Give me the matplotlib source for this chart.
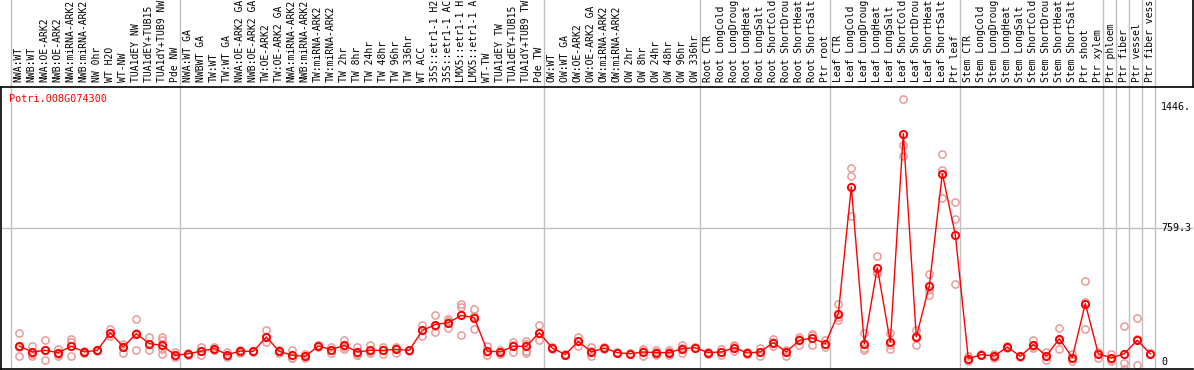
import matplotlib.pyplot as plt

gene = "Potri.008G074300"

# column labels, one list per block (blocks are split by grey lines)
nw_labels = ["NWA:WT", "NWB:WT", "NWA:OE-ARK2", "NWB:OE-ARK2", "NWA:miRNA-ARK2",
             "NWB:miRNA-ARK2", "NW 0hr", "WT H2O", "WT-NW", "TUA1dEY NW",
             "TUA1dEY+TUB15 NW", "TUA1dY+TUB9 NW", "Pde NW"]
tw_labels = ["NWA:WT GA", "NWBWT GA", "TW:WT", "TW:WT GA", "NWA:OE-ARK2 GA",
             "NWB:OE-ARK2 GA", "TW:OE-ARK2", "TW:OE-ARK2 GA", "NWA:miRNA-ARK2",
             "NWB:miRNA-ARK2", "TW:miRNA-ARK2", "TW:miRNA-ARK2", "TW 2hr", "TW 8hr",
             "TW 24hr", "TW 48hr", "TW 96hr", "TW 336hr", "WT ACC", "35S::etr1-1 H2O",
             "35S::etr1-1 ACC", "LMX5::etr1-1 H2O", "LMX5::etr1-1 ACC", "WT-TW",
             "TUA1dEY TW", "TUA1dEY+TUB15 TW", "TUA1dY+TUB9 TW", "Pde TW"]
ow_labels = ["OW:WT", "OW:WT GA", "OW:OE-ARK2", "OW:OE-ARK2 GA", "OW:miRNA-ARK2",
             "OW:miRNA-ARK2", "OW 2hr", "OW 8hr", "OW 24hr", "OW 48hr", "OW 96hr",
             "OW 336hr"]
root_labels = ["Root CTR", "Root LongCold", "Root LongDrought", "Root LongHeat",
               "Root LongSalt", "Root ShortCold", "Root ShortDrought", "Root ShortHeat",
               "Root ShortSalt", "Ptr root"]
leaf_labels = ["Leaf CTR", "Leaf LongCold", "Leaf LongDrought", "Leaf LongHeat",
               "Leaf LongSalt", "Leaf ShortCold", "Leaf ShortDrought", "Leaf ShortHeat",
               "Leaf ShortSalt", "Ptr leaf"]
stem_labels = ["Stem CTR", "Stem LongCold", "Stem LongDrought", "Stem LongHeat",
               "Stem LongSalt", "Stem ShortCold", "Stem ShortDrought", "Stem ShortHeat",
               "Stem ShortSalt", "Ptr shoot", "Ptr xylem"]
tissue_labels = [["Ptr phloem"], ["Ptr fiber"], ["Ptr vessel"], ["Ptr fiber vessel"]]

blocks = [nw_labels, tw_labels, ow_labels, root_labels, leaf_labels, stem_labels] + tissue_labels
labels = [l for b in blocks for l in b]

# mean expression per column
means = [91, 57, 66, 53, 89, 57, 66, 166, 85, 161, 104, 94, 38,
         47, 62, 76, 42, 62, 60, 142, 60, 38, 32, 91, 70, 94, 57, 66, 66, 72, 66,
         179, 212, 223, 264, 251, 62, 57, 89, 89, 166,
         79, 42, 117, 57, 79, 53, 47, 57, 53, 53, 76, 81,
         53, 57, 81, 51, 57, 110, 57, 123, 136, 104,
         274, 992, 104, 535, 113, 1294, 142, 431, 1067, 722,
         19, 42, 34, 85, 32, 98, 34, 132, 25, 331, 47,
         23, 47, 123, 47]

# replicate values per column
reps = [[166, 85, 34], [93, 47, 34], [123, 66, 13], [72, 47, 32], [132, 113, 34],
        [60, 53], [70, 62], [185, 166, 145], [104, 85, 53], [246, 166, 70],
        [142, 100, 70], [142, 123, 76, 47], [57, 30, 28],
        [53, 42], [85, 62, 38], [85, 70], [57, 28], [70, 53], [62, 57],
        [179, 142, 113], [66, 53], [66, 25, 23], [47, 25], [95, 87], [85, 70, 53],
        [127, 85, 72], [85, 47, 40], [94, 55, 50], [85, 66, 47], [79, 83, 53],
        [70, 62], [208, 179, 147], [264, 202, 170], [246, 230, 193],
        [331, 312, 155], [302, 262, 189], [89, 57, 40], [70, 57, 43],
        [113, 98, 57], [119, 104, 64, 53], [208, 163, 127],
        [83, 75], [45, 40], [142, 117, 89], [85, 60, 32], [83, 75], [55, 51],
        [49, 45], [72, 62, 34], [66, 57, 38], [66, 57, 38], [94, 81, 53], [85, 77],
        [55, 47], [76, 57, 38], [94, 89, 60], [57, 47], [79, 57, 34],
        [128, 113, 89], [68, 57, 34], [142, 132, 94], [157, 153, 98], [123, 104, 85],
        [331, 255, 236], [1101, 1054, 827], [166, 80, 66], [599, 504, 504],
        [166, 98, 76], [1492, 1232, 1167], [183, 145, 98], [501, 410, 382],
        [1181, 1086, 931], [907, 812, 444],
        [32, 19, 6], [45, 40], [47, 34, 21], [91, 79], [34, 30], [123, 91, 79],
        [57, 34, 13], [195, 125, 76], [47, 25, 6], [457, 340, 189], [57, 47, 23],
        [43, 19, 8], [202, -6, -38], [251, 133, -15], [52, 43]]

ytick_vals = [1446.0, 759.3, 0]
ytick_text = ["1446.", "759.3", "0"]

W, H = 1194, 370
mono = "DejaVu Sans Mono"
grey = "#c0c0c0"

fig = plt.figure(figsize=(W / 100, H / 100), dpi=100, facecolor="w")
ax = fig.add_axes([1 / W, 1 / H, 1192 / W, 282 / H])
axh = fig.add_axes([1 / W, 283 / H, 1192 / W, 87 / H], sharex=ax)

x = list(range(len(labels)))
xlim = ((1 - 19.3) / 13, (1193 - 19.3) / 13)

# block separators
edges = [0]
for b in blocks:
    edges.append(edges[-1] + len(b))
for e in edges:
    ax.axvline(e - 0.64, color=grey, lw=1, zorder=0)
    axh.axvline(e - 0.64, color=grey, lw=1, zorder=0)
ax.axhline(759.3, color=grey, lw=1, zorder=0)

for i, r in enumerate(reps):
    ax.plot([i] * len(r), r, "o", mfc="none", mec="#eb9a9a", ms=5.2, mew=1.1, zorder=2)
ax.plot(x, means, "-", color="red", lw=1, zorder=3)
ax.plot(x, means, "o", mfc="none", mec="red", ms=5.2, mew=1.4, zorder=4)

ax.set_xlim(*xlim)
ax.set_ylim((362 - 369) * 5.666, (362 - 87) * 5.666)
ax.set_xticks([])
ax.set_yticks([])
for s in ["top", "right"]:
    ax.spines[s].set_visible(False)
ax.spines["left"].set_linewidth(1.2)
ax.spines["bottom"].set_linewidth(1.2)

for v, t in zip(ytick_vals, ytick_text):
    ax.text(1162 / W, v, t, transform=ax.get_yaxis_transform(), fontsize=7.2,
            family=mono, va="center", ha="left", clip_on=False)

ax.text(-0.8, 1490, gene, color="red", fontsize=7.3, family=mono, va="center", ha="left")

# header with rotated column names (only the first 14 characters fit)
axh.set_ylim(0, 1)
axh.set_xticks([])
axh.set_yticks([])
for s in ["top", "left"]:
    axh.spines[s].set_visible(False)
axh.spines["bottom"].set_linewidth(1.2)
axh.spines["right"].set_linewidth(1.2)
for i, lab in enumerate(labels):
    axh.text(i - 0.05, 0.06, lab[:14], rotation=90, fontsize=7.0, family=mono,
             ha="center", va="bottom", clip_on=True)

fig.savefig("out.png", dpi=100)
